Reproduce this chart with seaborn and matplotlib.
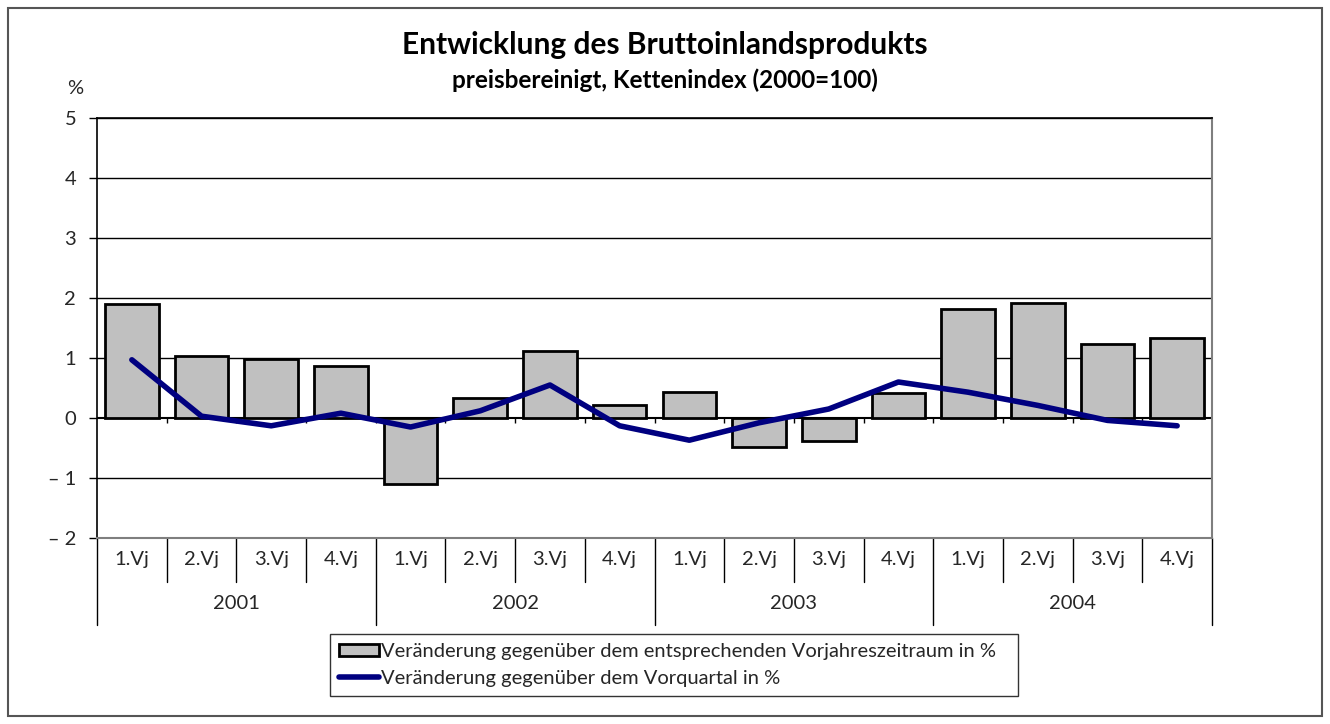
import numpy as np
import pandas as pd
import matplotlib
matplotlib.use("Agg")
import matplotlib.pyplot as plt
import seaborn as sns
from matplotlib.patches import Patch, Rectangle
from matplotlib.lines import Line2D

# Data
years = ["2001", "2002", "2003", "2004"]
quarters = ["1.Vj", "2.Vj", "3.Vj", "4.Vj"]
vorjahr = [1.90, 1.03, 0.98, 0.87,
           -1.10, 0.33, 1.12, 0.22,
           0.43, -0.48, -0.38, 0.42,
           1.82, 1.91, 1.23, 1.33]
vorquartal = [0.97, 0.03, -0.13, 0.08,
              -0.15, 0.12, 0.55, -0.13,
              -0.37, -0.08, 0.15, 0.60,
              0.43, 0.21, -0.04, -0.13]
y_ticks = [5, 4, 3, 2, 1, 0, -1, -2]
y_labels = ["5", "4", "3", "2", "1", "0", "\u2013 1", "\u2013 2"]

legend_bar = "Veränderung gegenüber dem entsprechenden Vorjahreszeitraum in %"
legend_line = "Veränderung gegenüber dem Vorquartal in %"

df = pd.DataFrame({"pos": np.arange(len(vorjahr)), "vorjahr": vorjahr,
                   "vorquartal": vorquartal})

sns.set_style("white")
plt.rcParams["font.family"] = ["Lato", "DejaVu Sans"]

W, H = 1330, 724
fig = plt.figure(figsize=(W / 100, H / 100), dpi=100)
ax = fig.add_axes([97 / W, 1 - 538 / H, (1212 - 97) / W, 420 / H])

sns.barplot(data=df, x="pos", y="vorjahr", color="#C0C0C0", saturation=1,
            edgecolor="black", linewidth=2, width=0.77, ax=ax, zorder=3)
sns.lineplot(data=df, x="pos", y="vorquartal", color="#000080", linewidth=4,
             ax=ax, zorder=4)

ax.set_xlim(-0.5, len(vorjahr) - 0.5)
ax.set_ylim(-2, 5)
ax.set_yticks(y_ticks)
ax.set_yticklabels(y_labels, fontsize=14.5)
ax.set_xticks([])
ax.set_xlabel("")
ax.set_ylabel("")
ax.tick_params(axis="y", length=6, width=1, color="black", pad=9, left=True)

# grid lines
for v in [1, 2, 3, 4, 5, -1]:
    ax.axhline(v, color="black", linewidth=1, zorder=1)
ax.axhline(0, color="black", linewidth=1.5, zorder=2)
ax.vlines(np.arange(len(vorjahr) - 1) + 0.5, -0.08, 0, color="black",
          linewidth=1, zorder=2)

for s in ["left", "top"]:
    ax.spines[s].set_color("black")
    ax.spines[s].set_linewidth(1.2)
for s in ["right", "bottom"]:
    ax.spines[s].set_color("#7f7f7f")
    ax.spines[s].set_linewidth(1.5)

# category axis (quarters + years)
trans = ax.get_xaxis_transform()
n = len(vorjahr)
for i in range(n + 1):
    low = -0.207 if i % 4 == 0 else -0.105
    ax.plot([i - 0.5, i - 0.5], [0, low], transform=trans, color="black",
            linewidth=1, clip_on=False)
for i in range(n):
    ax.text(i, -0.052, quarters[i % 4], transform=trans, ha="center",
            va="center", fontsize=14.5)
for j, yr in enumerate(years):
    ax.text(j * 4 + 1.5, -0.155, yr, transform=trans, ha="center",
            va="center", fontsize=14.5)

# titles
fig.text(665 / W, 1 - 45 / H, "Entwicklung des Bruttoinlandsprodukts",
         ha="center", va="center", fontsize=21.5, fontweight="bold",
         color="black")
fig.text(665 / W, 1 - 80 / H, "preisbereinigt, Kettenindex (2000=100)",
         ha="center", va="center", fontsize=17.5, fontweight="bold",
         color="black")
fig.text(75 / W, 1 - 88 / H, "%", ha="center", va="center", fontsize=14.5)

# legend
handles = [Patch(facecolor="#C0C0C0", edgecolor="black", linewidth=2),
           Line2D([0], [0], color="#000080", linewidth=4)]
leg = fig.legend(handles, [legend_bar, legend_line],
                 bbox_to_anchor=(330 / W, 1 - 702 / H, 688 / W, 68 / H),
                 loc="upper left", mode="expand", fontsize=14.5,
                 frameon=True, fancybox=False, edgecolor="black",
                 handlelength=2.0, handleheight=0.6, handletextpad=0.1,
                 borderpad=0.45, borderaxespad=0, labelspacing=0.5)
leg.get_frame().set_linewidth(1)

# outer frame
fig.patches.append(Rectangle((8 / W, 8 / H), 1 - 16 / W, 1 - 16 / H,
                             transform=fig.transFigure, fill=False,
                             edgecolor="#555555", linewidth=1.5))

fig.savefig("out.png", dpi=100)
